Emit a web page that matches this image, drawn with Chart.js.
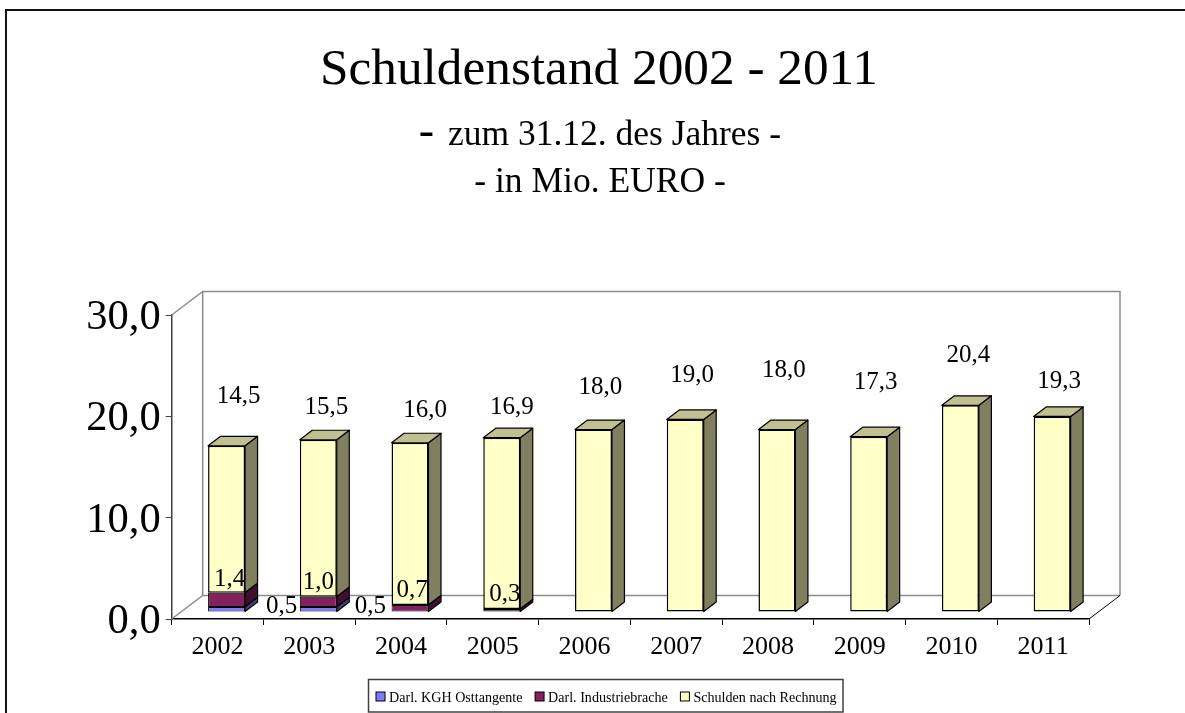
<!DOCTYPE html>
<html>
<head>
<meta charset="utf-8">
<title>Schuldenstand 2002 - 2011</title>
<script src="https://cdn.jsdelivr.net/npm/chart.js@4"></script>
<style>
  html, body { margin: 0; padding: 0; background: #fff; overflow: hidden; }
  #wrap { position: relative; width: 1185px; height: 713px; }
  canvas { display: block; }
</style>
</head>
<body>
<div id="wrap"><canvas id="chart" width="1185" height="713"></canvas></div>
<script>
const years = ["2002", "2003", "2004", "2005", "2006", "2007", "2008", "2009", "2010", "2011"];
const kgh = [0.5, 0.5, 0, 0, 0, 0, 0, 0, 0, 0];
const industrie = [1.4, 1.0, 0.7, 0.3, 0, 0, 0, 0, 0, 0];
const schulden = [14.5, 15.5, 16.0, 16.9, 18.0, 19.0, 18.0, 17.3, 20.4, 19.3];

const SERIF = '"Liberation Serif", "Times New Roman", serif';

// Where the labels sit relative to the top centre of their bar segment
const kghLabelShift = [[55, 0], [52, 0]];
const industrieLabelShift = [[3, -13], [0, -14], [2, -14], [3, -15]];
const schuldenLabelShift = [[12, -49], [8, -32], [15, -32], [10, -30], [7, -42], [7, -44], [7, -59], [7, -54], [8, -50], [7, -35]];

// 3D look: walls go back by WALL_*, bars stand half way in
const WALL_X = 31, WALL_Y = -23.5;
const BAR_X = 9, BAR_Y = -7;
const DEPTH_X = 12.5, DEPTH_Y = -9.5;

const darker = { "#7b7bff": "#3f3f80", "#83215f": "#42102f", "#ffffc8": "#808060" };
const lighter = { "#7b7bff": "#9999cc", "#83215f": "#c0a0b0", "#ffffc8": "#c0c090" };

const comma = v => v.toFixed(1).replace(".", ",");

const box3d = {
  id: "box3d",
  beforeDatasetsDraw(chart) {
    const { ctx, chartArea: a } = chart;
    ctx.save();
    ctx.strokeStyle = "#8c8c8c";
    ctx.lineWidth = 1.5;
    ctx.beginPath();
    ctx.moveTo(a.left, a.top);
    ctx.lineTo(a.left + WALL_X, a.top + WALL_Y);
    ctx.lineTo(a.right + WALL_X, a.top + WALL_Y);
    ctx.lineTo(a.right + WALL_X, a.bottom + WALL_Y);
    ctx.moveTo(a.left, a.bottom);
    ctx.lineTo(a.left + WALL_X, a.bottom + WALL_Y);
    ctx.lineTo(a.right + WALL_X, a.bottom + WALL_Y);
    ctx.moveTo(a.left + WALL_X, a.top + WALL_Y);
    ctx.lineTo(a.left + WALL_X, a.bottom + WALL_Y);
    ctx.stroke();
    ctx.restore();
    // the bars stand inside the box, not on the front edge
    ctx.save();
    ctx.translate(BAR_X, BAR_Y);
  },
  afterDatasetDraw(chart, args) {
    const { ctx } = chart;
    const all = chart.data.datasets;
    const color = all[args.index].backgroundColor;
    const face = (pts, fill) => {
      ctx.beginPath();
      pts.forEach((p, i) => i ? ctx.lineTo(p[0], p[1]) : ctx.moveTo(p[0], p[1]));
      ctx.closePath();
      ctx.fillStyle = fill;
      ctx.fill();
      ctx.strokeStyle = "#000";
      ctx.lineWidth = 1.2;
      ctx.lineJoin = "round";
      ctx.stroke();
    };
    args.meta.data.forEach((bar, i) => {
      if (!all[args.index].data[i]) return;
      const { x, y, base, width } = bar.getProps(["x", "y", "base", "width"], true);
      const r = x + width / 2, l = x - width / 2;
      face([[r, y], [r + DEPTH_X, y + DEPTH_Y], [r + DEPTH_X, base + DEPTH_Y], [r, base]], darker[color]);
      // only the uppermost segment shows its top
      const covered = all.slice(args.index + 1).some(ds => ds.data[i]);
      if (!covered) face([[l, y], [l + DEPTH_X, y + DEPTH_Y], [r + DEPTH_X, y + DEPTH_Y], [r, y]], lighter[color]);
    });
  },
  afterDatasetsDraw(chart) {
    chart.ctx.restore();
    const { ctx, chartArea: a } = chart;
    ctx.save();
    // the floor's right edge
    ctx.strokeStyle = "#000";
    ctx.lineWidth = 1;
    ctx.beginPath();
    ctx.moveTo(a.right, a.bottom);
    ctx.lineTo(a.right + WALL_X, a.bottom + WALL_Y);
    ctx.stroke();
    // value labels
    ctx.font = "25px " + SERIF;
    ctx.fillStyle = "#000";
    ctx.textAlign = "center";
    ctx.textBaseline = "middle";
    const shifts = [kghLabelShift, industrieLabelShift, schuldenLabelShift];
    chart.data.datasets.forEach((ds, d) => {
      chart.getDatasetMeta(d).data.forEach((bar, i) => {
        if (!ds.data[i]) return;
        const s = shifts[d][i];
        ctx.fillText(comma(ds.data[i]), bar.x + BAR_X + s[0], bar.y + BAR_Y + s[1]);
      });
    });
    ctx.restore();
  }
};

// Headline block, outer frame and the boxed legend
const decor = {
  id: "decor",
  afterDraw(chart) {
    const { ctx } = chart;
    ctx.save();
    ctx.strokeStyle = "#111";
    ctx.lineWidth = 2;
    ctx.beginPath();
    ctx.moveTo(6, 713);
    ctx.lineTo(6, 10);
    ctx.lineTo(1185, 10);
    ctx.stroke();

    ctx.fillStyle = "#000";
    ctx.textBaseline = "alphabetic";
    ctx.textAlign = "center";
    ctx.font = "51.3px " + SERIF;
    ctx.fillText("Schuldenstand 2002 - 2011", 599, 84);
    ctx.font = "35.5px " + SERIF;
    ctx.fillText("zum 31.12. des Jahres -", 614.5, 145);
    ctx.fillText("- in Mio. EURO -", 600, 191.5);
    ctx.font = "46px " + SERIF;
    ctx.fillText("-", 426.5, 145);

    ctx.strokeStyle = "#404040";
    ctx.lineWidth = 1.5;
    ctx.strokeRect(368.5, 679.5, 474.5, 32.5);
    ctx.textAlign = "left";
    ctx.font = "14.1px " + SERIF;
    let x = 376;
    chart.data.datasets.forEach(ds => {
      ctx.fillStyle = ds.backgroundColor;
      ctx.strokeStyle = "#000";
      ctx.lineWidth = 1;
      ctx.fillRect(x, 692, 9, 9);
      ctx.strokeRect(x, 692, 9, 9);
      ctx.fillStyle = "#000";
      ctx.fillText(ds.label, x + 13, 701.5);
      x += 13 + ctx.measureText(ds.label).width + 12.6;
    });
    ctx.restore();
  }
};

const seriesStyle = {
  borderColor: "#000",
  borderSkipped: false,
  barPercentage: 0.403,
  categoryPercentage: 1,
  clip: false
};

new Chart(document.getElementById("chart"), {
  type: "bar",
  data: {
    labels: years,
    datasets: [
      { label: "Darl. KGH Osttangente", data: kgh, backgroundColor: "#7b7bff", borderWidth: 1, ...seriesStyle },
      { label: "Darl. Industriebrache", data: industrie, backgroundColor: "#83215f", borderWidth: 1, ...seriesStyle },
      { label: "Schulden nach Rechnung", data: schulden, backgroundColor: "#ffffc8", borderWidth: 1.5, ...seriesStyle }
    ]
  },
  plugins: [box3d, decor],
  options: {
    responsive: false,
    animation: false,
    devicePixelRatio: 1,
    layout: { padding: { left: 0, right: 96, top: 315, bottom: 34 } },
    scales: {
      x: {
        stacked: true,
        afterFit: s => { s.height = 60; },
        border: { color: "#000", width: 1.5 },
        grid: { color: "#000", drawOnChartArea: false, tickLength: 6, lineWidth: 1 },
        ticks: { color: "#000", font: { family: SERIF, size: 26 }, maxRotation: 0, padding: 7 }
      },
      y: {
        stacked: true,
        min: 0,
        max: 30,
        afterFit: s => { s.width = 171.7; },
        border: { color: "#404040", width: 1.5 },
        grid: { color: "#404040", drawOnChartArea: false, tickLength: 6, lineWidth: 1 },
        ticks: {
          color: "#000",
          font: { family: SERIF, size: 42.5 },
          stepSize: 10,
          padding: 5,
          labelOffset: 3,
          callback: v => comma(v)
        }
      }
    },
    plugins: {
      title: { display: false },
      tooltip: { enabled: false },
      legend: { display: false }
    }
  }
});
</script>
</body>
</html>
